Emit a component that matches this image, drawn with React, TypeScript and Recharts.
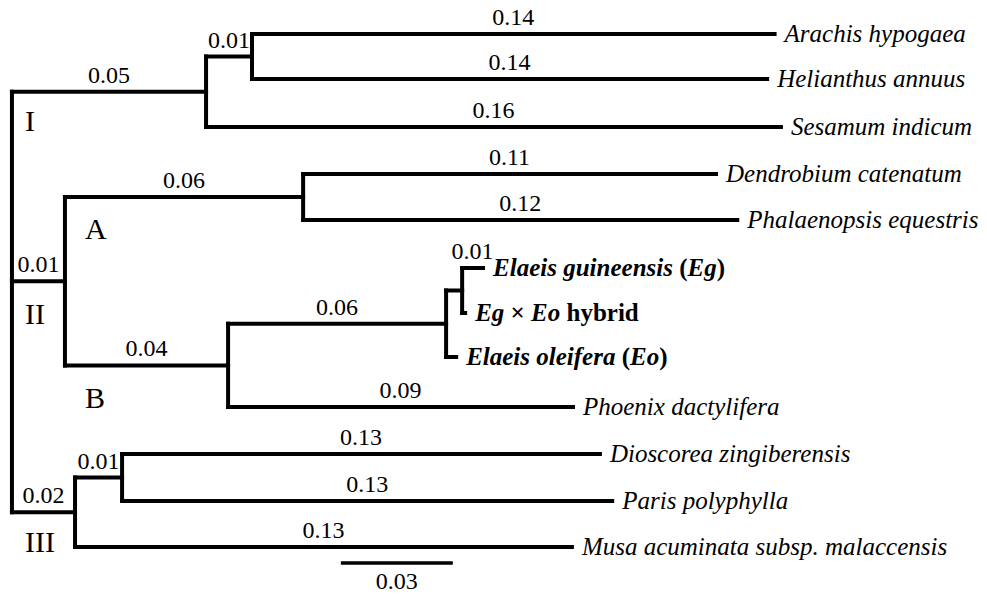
import React from 'react';
import { ComposedChart, XAxis, YAxis, Scatter, ReferenceLine } from 'recharts';

const W = 987;
const H = 597;

// tree: [id, parent, branch length as drawn, branch label]
const nodeIds = ['root', 'I', 'I1', 'Arachis', 'Helianthus', 'Sesamum', 'II', 'A', 'Dendrobium', 'Phalaenopsis',
  'B', 'E', 'E1', 'Eg', 'Hybrid', 'Eo', 'Phoenix', 'III', 'III1', 'Dioscorea', 'Paris', 'Musa'];
const parents = ['', 'root', 'I', 'I1', 'I1', 'I', 'root', 'II', 'A', 'A',
  'II', 'B', 'E', 'E1', 'E1', 'E', 'B', 'root', 'III', 'III1', 'III1', 'III'];
const lengths = [0, 0.052, 0.0123, 0.14, 0.138, 0.154, 0.0142, 0.0638, 0.1106, 0.1163,
  0.0437, 0.0584, 0.0043, 0.0056, 0.0008, 0.0027, 0.0924, 0.0169, 0.0126, 0.128, 0.1313, 0.1331];
const branchLabels = ['', '0.05', '0.01', '0.14', '0.14', '0.16', '0.01', '0.06', '0.11', '0.12',
  '0.04', '0.06', '', '0.01', '', '', '0.09', '0.02', '0.01', '0.13', '0.13', '0.13'];

// leaves, top to bottom
const leafIds = ['Arachis', 'Helianthus', 'Sesamum', 'Dendrobium', 'Phalaenopsis', 'Eg', 'Hybrid', 'Eo',
  'Phoenix', 'Dioscorea', 'Paris', 'Musa'];
const leafRows = [34, 79, 127, 174, 220, 268, 313, 357, 407, 454, 501, 547];
const leafNames = ['_Arachis hypogaea_', '_Helianthus annuus_', '_Sesamum indicum_', '_Dendrobium catenatum_',
  '_Phalaenopsis equestris_', '_Elaeis guineensis_ (_Eg_)', '_Eg_ × _Eo_ hybrid', '_Elaeis oleifera_ (_Eo_)',
  '_Phoenix dactylifera_', '_Dioscorea zingiberensis_', '_Paris polyphylla_', '_Musa acuminata subsp. malaccensis_'];
const leafBold = [false, false, false, false, false, true, true, true, false, false, false, false];

const cladeNames = ['I', 'II', 'III', 'A', 'B'];
const cladeX = [0.0035, 0.0035, 0.0035, 0.0196, 0.0196];
const cladeY = [131, 324, 552, 239, 408];

const scaleBar = { from: 0.0881, to: 0.1181, y: 563, label: '0.03' };

const xDomain = [-0.0032, 0.2612];

type N = { id: string; parent: string; len: number; label: string; x: number; y: number; px: number; children: string[] };

function buildTree() {
  const map: Record<string, N> = {};
  nodeIds.forEach((id, i) => {
    map[id] = { id, parent: parents[i], len: lengths[i], label: branchLabels[i], x: 0, y: 0, px: 0, children: [] };
  });
  nodeIds.forEach((id) => {
    const p = map[id].parent;
    if (p) map[p].children.push(id);
  });
  const setX = (id: string, base: number) => {
    const n = map[id];
    n.px = base;
    n.x = base + n.len;
    n.children.forEach((c) => setX(c, n.x));
  };
  setX('root', 0);
  const setY = (id: string): number => {
    const n = map[id];
    const li = leafIds.indexOf(id);
    if (li >= 0) n.y = leafRows[li];
    else {
      const ys = n.children.map(setY);
      n.y = (Math.min(...ys) + Math.max(...ys)) / 2;
    }
    return n.y;
  };
  setY('root');
  return map;
}

const tree = buildTree();
const nodes = nodeIds.map((id) => tree[id]);

const leafData = leafIds.map((id, i) => ({ x: tree[id].x, y: tree[id].y, name: leafNames[i], bold: leafBold[i] }));
const labelData = nodes.filter((n) => n.label).map((n) => ({ x: (n.px + n.x) / 2, y: n.y, label: n.label }));
const cladeData = cladeNames.map((c, i) => ({ x: cladeX[i], y: cladeY[i], label: c }));

const FONT = '"Liberation Serif", "Times New Roman", serif';

function rich(text: string) {
  return text.split('_').map((p, i) =>
    p ? (
      <tspan key={i} fontStyle={i % 2 === 1 ? 'italic' : 'normal'}>
        {p}
      </tspan>
    ) : null
  );
}

const LeafLabel = (props: any) => {
  const { cx, cy, payload } = props;
  return (
    <text x={cx + 10} y={cy + 8} fontFamily={FONT} fontSize={25} fontWeight={payload.bold ? 'bold' : 'normal'}
      fill="#000" style={{ whiteSpace: 'pre' }}>
      {rich(payload.name)}
    </text>
  );
};

const BranchLabel = (props: any) => {
  const { cx, cy, payload } = props;
  return (
    <text x={cx} y={cy - 9} textAnchor="middle" fontFamily={FONT} fontSize={24} fill="#000">
      {payload.label}
    </text>
  );
};

const CladeLabel = (props: any) => {
  const { cx, cy, payload } = props;
  return (
    <text x={cx} y={cy} fontFamily={FONT} fontSize={30} fill="#000">
      {payload.label}
    </text>
  );
};

const ScaleLabel = (props: any) => {
  const { cx, cy, payload } = props;
  return (
    <text x={cx} y={cy + 26} textAnchor="middle" fontFamily={FONT} fontSize={24} fill="#000">
      {payload.label}
    </text>
  );
};

const line = { stroke: '#000', strokeWidth: 4, strokeLinecap: 'square' as const };

export default function App() {
  const segments: { key: string; seg: { x: number; y: number }[] }[] = [];
  nodes.forEach((n) => {
    if (n.parent) segments.push({ key: 'h' + n.id, seg: [{ x: n.px, y: n.y }, { x: n.x, y: n.y }] });
    if (n.children.length) {
      const ys = n.children.map((c) => tree[c].y);
      segments.push({ key: 'v' + n.id, seg: [{ x: n.x, y: Math.min(...ys) }, { x: n.x, y: Math.max(...ys) }] });
    }
  });

  return (
    <div style={{ position: 'absolute', left: 0, top: 0, width: W, height: H, background: '#fff' }}>
      <ComposedChart width={W} height={H} margin={{ top: 0, right: 0, bottom: 0, left: 0 }}>
        <XAxis type="number" dataKey="x" domain={xDomain} hide allowDataOverflow />
        <YAxis type="number" dataKey="y" domain={[0, H]} reversed hide allowDataOverflow />
        {segments.map((s) => (
          <ReferenceLine key={s.key} segment={s.seg} {...line} ifOverflow="visible" />
        ))}
        <ReferenceLine segment={[{ x: scaleBar.from, y: scaleBar.y }, { x: scaleBar.to, y: scaleBar.y }]}
          {...line} strokeWidth={3.5} strokeLinecap="butt" ifOverflow="visible" />
        <Scatter data={leafData} shape={LeafLabel} isAnimationActive={false} />
        <Scatter data={labelData} shape={BranchLabel} isAnimationActive={false} />
        <Scatter data={cladeData} shape={CladeLabel} isAnimationActive={false} />
        <Scatter data={[{ x: (scaleBar.from + scaleBar.to) / 2, y: scaleBar.y, label: scaleBar.label }]}
          shape={ScaleLabel} isAnimationActive={false} />
      </ComposedChart>
    </div>
  );
}
